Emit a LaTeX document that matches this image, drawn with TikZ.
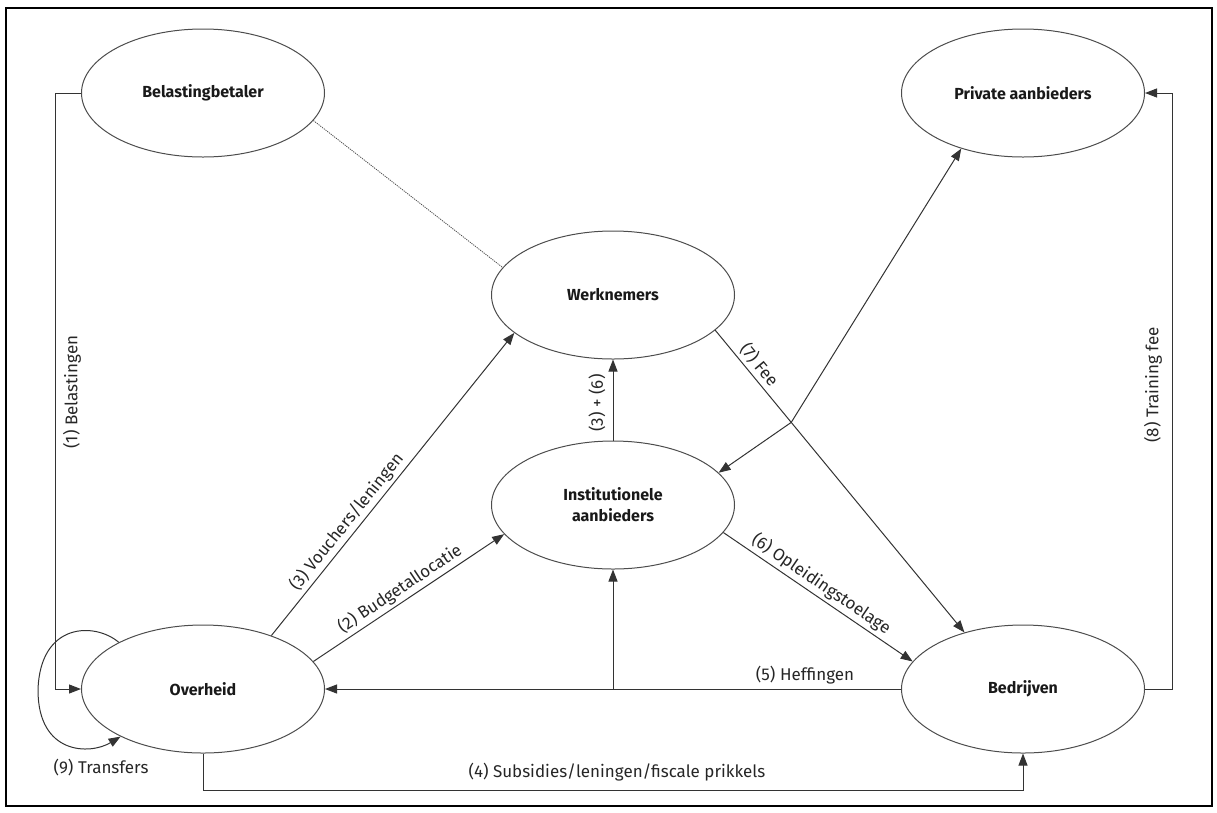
\documentclass[tikz,border=0pt]{standalone}
\usepackage{fontspec}
\setmainfont{Fira Sans}
\usetikzlibrary{arrows.meta,shapes.geometric,calc}
\begin{document}
\begin{tikzpicture}[x=1pt,y=-1pt,
  ent/.style={ellipse,draw=black!70,line width=1pt,minimum width=243pt,minimum height=128pt,inner sep=0pt,font=\fontsize{16}{21}\selectfont\bfseries,text=black!90,align=center},
  conn/.style={draw=black!80,line width=1pt},
  arr/.style={conn,-{Triangle[length=12pt,width=9pt]}},
  lab/.style={font=\fontsize{17}{19}\selectfont,text=black!85,inner sep=3pt}
]
\useasboundingbox (0,0) rectangle (1217,812);
\draw[line width=2.2pt] (6,8) rectangle (1212,806);

\node[ent] (bel) at (203,93) {Belastingbetaler};
\node[ent] (pri) at (1023,93) {Private aanbieders};
\node[ent] (wer) at (613,295) {Werknemers};
\node[ent] (ins) at (613,505) {Institutionele\\aanbieders};
\node[ent] (ove) at (203,689) {Overheid};
\node[ent] (bed) at (1023,689) {Bedrijven};

% (1) Belastingen
\coordinate (c1a) at (55,93);
\coordinate (c1b) at (55,689);
\draw[arr] (bel.west) -- (c1a) -- (c1b) -- (ove.west);
\node[lab,rotate=90] (l1) at (72,392) {(1) Belastingen};

% dotted link
\draw[draw=black!70,line width=0.8pt,dash pattern=on 1.2pt off 1pt] (bel.-14.5) -- (wer.166.6);

% (3) Vouchers/leningen
\draw[arr] (ove.38.9) -- node[lab,sloped,above,pos=0.35] (l3) {(3) Vouchers/leningen} (wer.201.6);

% (2) Budgetallocatie
\draw[arr] (ove.14.5) -- node[lab,sloped,above,pos=0.49] (l2) {(2) Budgetallocatie} (ins.195.9);

% (3)+(6)
\draw[arr] (ins.north) -- (wer.south);
\node[lab,rotate=90] (l36) at (597,403) {(3) + (6)};

% (7) Fee
\draw[arr] (wer.-19.8) -- node[lab,sloped,above,pos=0.14] (l7) {(7) Fee} (bed.136);
\coordinate (jn) at ($(wer.-19.8)!0.305!(bed.136)$);
\draw[arr] (jn) -- (pri.222.3);
\draw[arr] (jn) -- (ins.17.8);

% (6) Opleidingstoelage
\draw[arr] (ins.-14) -- node[lab,sloped,above,pos=0.48] (l6) {(6) Opleidingstoelage} (bed.166.3);

% (5) Heffingen
\draw[arr] (bed.west) -- (ove.east);
\coordinate (hb) at (613,689);
\draw[arr] (hb) -- (ins.south);
\node[lab] (l5) at (805,675) {(5) Heffingen};

% (4) Subsidies
\coordinate (c4a) at (203,790);
\coordinate (c4b) at (1023,790);
\draw[arr] (ove.south) -- (c4a) -- (c4b) -- (bed.south);
\node[lab] (l4) at (617,772) {(4) Subsidies/leningen/fiscale prikkels};

% (8) Training fee
\coordinate (c8a) at (1172,689);
\coordinate (c8b) at (1172,93);
\draw[arr] (bed.east) -- (c8a) -- (c8b) -- (pri.east);
\node[lab,rotate=90] (l8) at (1153,385) {(8) Training fee};

% (9) Transfers
\coordinate (lp) at (38,690);
\draw[arr] (ove.151.6) .. controls (95,622) and (40,622) .. (lp) .. controls (38,755) and (90,755) .. (ove.210.6);
\node[lab] (l9) at (101,768) {(9) Transfers};
\end{tikzpicture}
\end{document}
